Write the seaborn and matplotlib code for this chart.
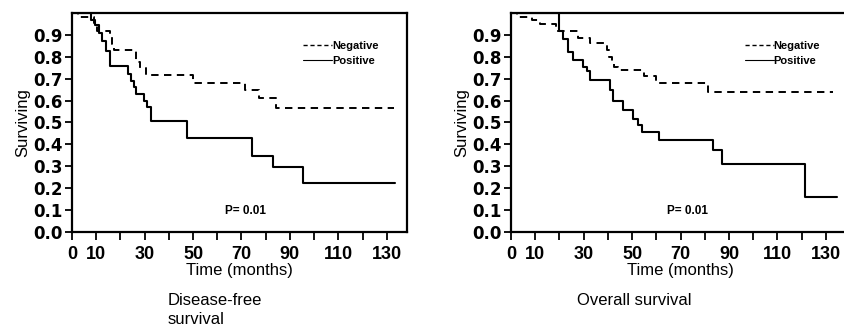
import numpy as np
import pandas as pd
import matplotlib
matplotlib.use("Agg")
import matplotlib.pyplot as plt
import seaborn as sns
from matplotlib.lines import Line2D

# Disease-free survival (left panel)
dfs_neg_t = [0, 2.5, 9, 10.5, 15.5, 16.5, 17.5, 26.6, 28.1, 30.7, 50.1, 71.5, 77.4, 84.2, 133]
dfs_neg_s = [1.0, 0.98, 0.955, 0.917, 0.89, 0.86, 0.833, 0.778, 0.748, 0.717, 0.682, 0.649, 0.611, 0.565, 0.565]
dfs_pos_t = [0, 8.0, 9.5, 11, 12.5, 14, 15.5, 23, 24.3, 25.5, 26.5, 29.6, 31.0, 32.7, 47.5, 74.5, 83.2, 95.3, 133.5]
dfs_pos_s = [1.0, 0.97, 0.947, 0.909, 0.871, 0.825, 0.757, 0.72, 0.69, 0.66, 0.63, 0.60, 0.57, 0.505, 0.43, 0.348, 0.298, 0.223, 0.223]

# Overall survival (right panel)
os_neg_t = [0, 2.5, 8.5, 12.0, 18.5, 27.5, 32.5, 39.5, 40.5, 41.5, 42.5, 44.0, 55.0, 60.0, 81.5, 133]
os_neg_s = [1.0, 0.98, 0.969, 0.95, 0.919, 0.886, 0.863, 0.83, 0.80, 0.77, 0.755, 0.74, 0.713, 0.679, 0.638, 0.638]
os_pos_t = [0, 19.6, 21.6, 23.6, 25.6, 29.9, 31.3, 32.6, 41.0, 42.0, 46.4, 50.5, 52.5, 54.0, 60.9, 83.6, 87.0, 121.5, 134.6]
os_pos_s = [1.0, 0.92, 0.88, 0.824, 0.786, 0.755, 0.733, 0.695, 0.65, 0.60, 0.558, 0.515, 0.49, 0.457, 0.421, 0.375, 0.311, 0.16, 0.16]

x_ticks = list(range(0, 140, 10))
x_labels = ["0", "10", "", "30", "", "50", "", "70", "", "90", "", "110", "", "130"]
y_ticks = [0.0, 0.1, 0.2, 0.3, 0.4, 0.5, 0.6, 0.7, 0.8, 0.9]
captions = ["Disease-free\nsurvival", "Overall survival"]

sns.set_theme(style="ticks")
plt.rcParams['font.family'] = ['Liberation Sans', 'DejaVu Sans']
plt.rcParams.update({"text.color": "black", "axes.labelcolor": "black",
                     "xtick.color": "black", "ytick.color": "black"})

fig = plt.figure(figsize=(8.44, 3.30), dpi=100)
ax1 = fig.add_axes([0.0853, 0.297, 0.397, 0.6636])
ax2 = fig.add_axes([0.6055, 0.297, 0.4017, 0.6636])

panels = [
    (ax1, dfs_neg_t, dfs_neg_s, dfs_pos_t, dfs_pos_s, 138.4, 0.66, 71.5),
    (ax2, os_neg_t, os_neg_s, os_pos_t, os_pos_s, 140.0, 0.66, 73.0),
]

for i, (ax, nt, ns, pt, ps, xmax, legx, px) in enumerate(panels):
    sns.lineplot(x=nt, y=ns, ax=ax, color="black", lw=1.4, drawstyle="steps-post",
                 dashes=False, linestyle=(0, (3.8, 2.8)), estimator=None, sort=False)
    sns.lineplot(x=pt, y=ps, ax=ax, color="black", lw=1.5, drawstyle="steps-post",
                 estimator=None, sort=False)
    ax.set_xlim(0, xmax)
    ax.set_ylim(0, 1.0)
    ax.set_xticks(x_ticks)
    ax.set_xticklabels(x_labels)
    ax.set_yticks(y_ticks)
    ax.set_yticklabels([f"{v:.1f}" for v in y_ticks])
    for lab in ax.get_yticklabels():
        lab.set_fontfamily("DejaVu Sans")
        lab.set_fontweight("bold")
        lab.set_fontsize(12)
    for lab in ax.get_xticklabels():
        lab.set_fontsize(13)
        lab.set_fontweight("bold")
    ax.tick_params(axis="both", direction="out", length=5, width=1.3, color="black",
                   labelcolor="black", pad=2)
    ax.tick_params(axis="x", length=6, pad=4)
    for sp in ax.spines.values():
        sp.set_visible(True)
        sp.set_linewidth(1.6)
        sp.set_color("black")
    ax.set_xlabel("Time (months)", fontsize=12, labelpad=0, color="black")
    ax.set_ylabel("Surviving", fontsize=12, labelpad=2, color="black")

    handles = [Line2D([], [], color="black", lw=1.0, linestyle=(0, (3, 2))),
               Line2D([], [], color="black", lw=0.8)]
    leg = ax.legend(handles, ["Negative", "Positive"], loc="upper left",
                    bbox_to_anchor=(legx, 0.92), frameon=False,
                    handlelength=2.6, handletextpad=0.0, labelspacing=0.45,
                    prop={"weight": "bold", "size": 8})
    for t in leg.get_texts():
        t.set_color("black")
    ax.text(px, 0.095, "P= 0.01", ha="center", va="center", fontsize=8.5,
            fontweight="bold", color="black")

fig.text(168 / 844, 1 - 293 / 330, captions[0], ha="left", va="top", fontsize=12,
         linespacing=1.35, color="black")
fig.text(634 / 844, 1 - 293 / 330, captions[1], ha="center", va="top", fontsize=12,
         color="black")

fig.savefig("out.png", dpi=100)
